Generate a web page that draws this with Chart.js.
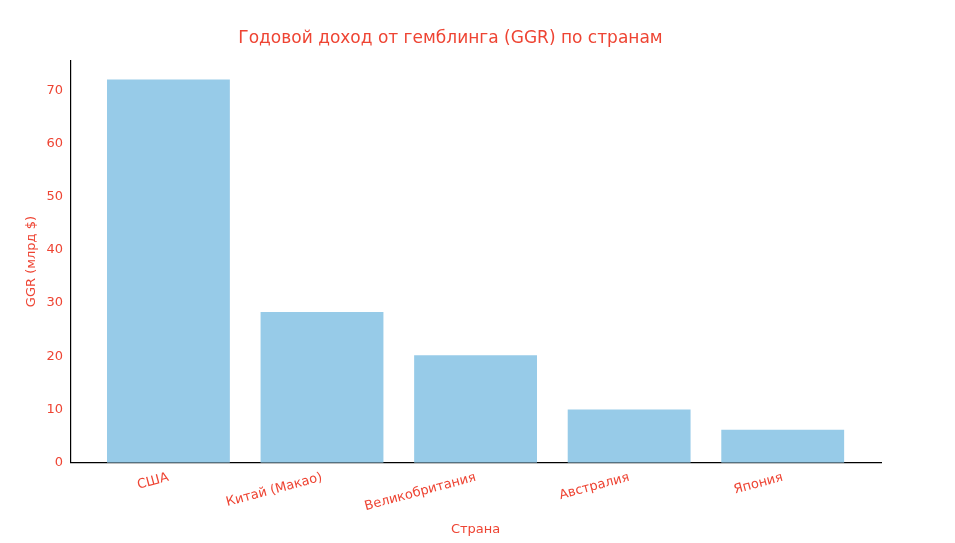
<!DOCTYPE html>
<html><head><meta charset="utf-8">
<script src="https://cdn.jsdelivr.net/npm/chart.js@4"></script>
<style>html,body{margin:0;padding:0;background:#fff}#w{width:955px;height:543px}</style>
</head><body><div id="w"><canvas id="c"></canvas></div>
<script>
const categories = ["США", "Китай (Макао)", "Великобритания", "Австралия", "Япония"];
const ggrValues = [72, 28.3, 20.2, 10, 6.2];
const yTicks = [0, 10, 20, 30, 40, 50, 60, 70];
const red = "#ee4433";
Chart.defaults.font.family = "DejaVu Sans";
new Chart(document.getElementById("c"), {
  type: "bar",
  data: { datasets: [{
    data: categories.map((c, i) => ({ x: i, y: ggrValues[i] })),
    backgroundColor: "#97cbe8", barPercentage: 0.8, categoryPercentage: 1
  }]},
  options: {
    responsive: true, maintainAspectRatio: false, animation: false,
    layout: { padding: { left: 20, right: 74, top: 8, bottom: 2 } },
    plugins: { legend: { display: false }, tooltip: { enabled: false },
      title: { display: true, text: "Годовой доход от гемблинга (GGR) по странам", color: red,
        font: { size: 17, weight: "normal" }, padding: { top: 20, bottom: 12 } } },
    scales: {
      x: { type: "linear", min: -0.64, max: 4.64, offset: false,
        afterBuildTicks: s => { s.ticks = categories.map((c, i) => ({ value: i })); },
        grid: { display: false, drawTicks: true, tickLength: 4, tickColor: "#000" },
        border: { color: "#000", width: 1.2 },
        ticks: { color: red, font: { size: 13 }, minRotation: 15, maxRotation: 15,
          callback: v => categories[v] ?? "" },
        title: { display: true, text: "Страна", color: red, font: { size: 13 } } },
      y: { min: 0, max: 75.6,
        afterBuildTicks: s => { s.ticks = yTicks.map(v => ({ value: v })); },
        grid: { display: false, drawTicks: true, tickLength: 4, tickColor: "#000" },
        border: { color: "#000", width: 1.2 },
        ticks: { color: red, font: { size: 13 } },
        title: { display: true, text: "GGR (млрд $)", color: red, font: { size: 13 } } }
    }
  }
});
</script></body></html>
